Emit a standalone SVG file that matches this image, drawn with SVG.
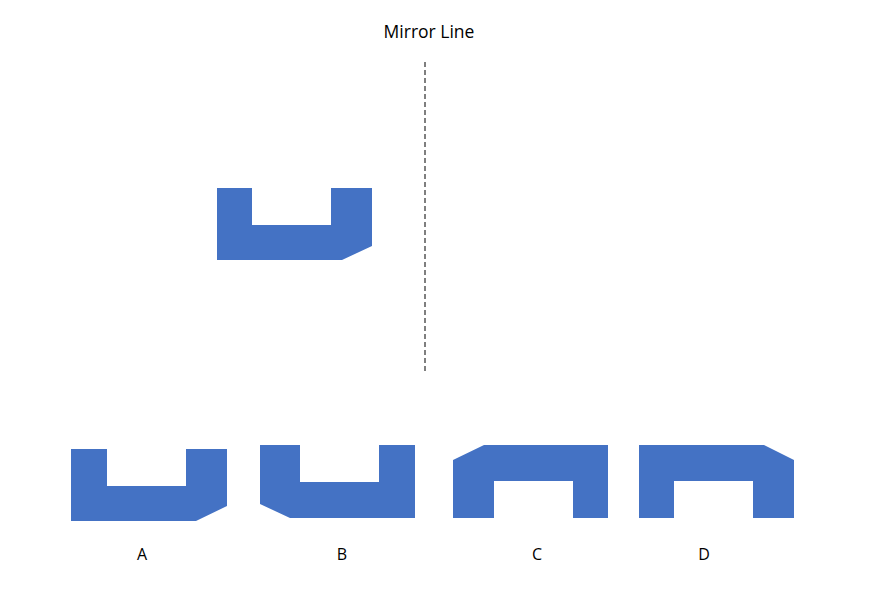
<svg xmlns="http://www.w3.org/2000/svg" width="890" height="600" viewBox="0 0 890 600">
<style>
.shape{fill:#4472C4;stroke:none}
.lbl{font-family:"Open Sans","Liberation Sans",sans-serif;font-size:16px;fill:#000;text-anchor:middle}
.title{font-size:17.5px}
.mirror{stroke:#555;stroke-width:1.5;stroke-dasharray:5,3;fill:none}
</style>
<rect width="890" height="600" fill="#fff"/>
<text class="lbl title" x="429" y="38">Mirror Line</text>
<g id="connectors">
<line class="mirror" x1="425" y1="62" x2="425" y2="371"/>
</g>
<g id="original"><path class="shape" d="M217,188 H252 V225 H331 V188 H372 V246 L342,260 H217 Z"/></g>
<g id="optionA"><path class="shape" d="M71,449 H107 V486 H186 V449 H227 V506 L196,521 H71 Z"/><text class="lbl" x="142" y="560">A</text></g>
<g id="optionB"><path class="shape" d="M260,445 H300 V482 H379 V445 H415 V518 H290 L260,504 Z"/><text class="lbl" x="342" y="560">B</text></g>
<g id="optionC"><path class="shape" d="M453,460 L484,445 H608 V518 H573 V481 H494 V518 H453 Z"/><text class="lbl" x="537" y="560">C</text></g>
<g id="optionD"><path class="shape" d="M639,445 H764 L794,460 V518 H753 V481 H674 V518 H639 Z"/><text class="lbl" x="704" y="560">D</text></g>
</svg>
